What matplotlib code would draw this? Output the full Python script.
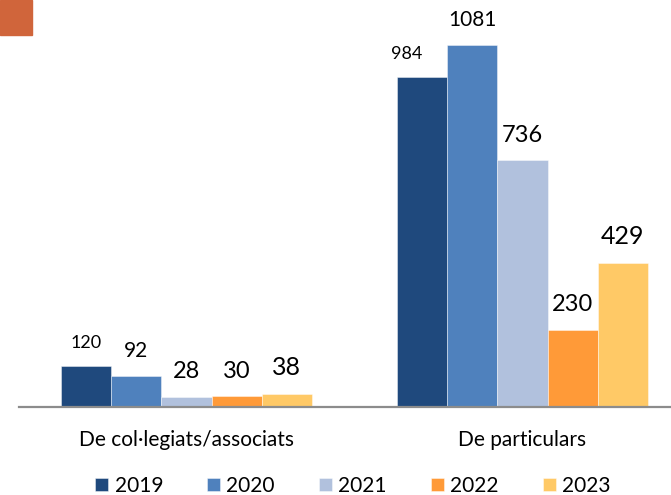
import matplotlib
matplotlib.use("Agg")
import matplotlib.pyplot as plt
from matplotlib.patches import Rectangle
import numpy as np

plt.rcParams['font.family'] = ['Lato', 'DejaVu Sans']

categories = ["De col·legiats/associats", "De particulars"]
years = ["2019", "2020", "2021", "2022", "2023"]
values = {
    "2019": [120, 984],
    "2020": [92, 1081],
    "2021": [28, 736],
    "2022": [30, 230],
    "2023": [38, 429],
}
colors = ["#1F497D", "#4F81BD", "#B1C1DD", "#FF9A38", "#FFC966"]
label_sizes = [13, 15, 17, 17, 18]
# small horizontal nudges (points) for individual value labels
label_nudge = {("2019", 1): -11}

fig = plt.figure(figsize=(6.71, 4.95), dpi=100)
ax = fig.add_axes([19 / 671, 1 - 406.5 / 495, 652 / 671, 406.5 / 495])

x = np.arange(len(categories))
width = 0.1494
n = len(years)
for i, (yr, col) in enumerate(zip(years, colors)):
    pos = x + (i - (n - 1) / 2) * width
    ax.bar(pos, values[yr], width=width, color=col, edgecolor=(1, 1, 1, 0.5),
           linewidth=0.6, label=yr, zorder=2)
    for j, (p, v) in enumerate(zip(pos, values[yr])):
        dx = label_nudge.get((yr, j), 0)
        ax.annotate(str(v), (p, v), xytext=(dx, 13.5), textcoords="offset points",
                    ha="center", va="baseline", fontsize=label_sizes[i],
                    color="#000000")

ax.set_xlim(-0.4985, 1.442)
ax.set_ylim(0, 1215)
for s in ["top", "right", "left"]:
    ax.spines[s].set_visible(False)
ax.spines["bottom"].set_color("#8C8C8C")
ax.spines["bottom"].set_linewidth(1.6)
ax.set_yticks([])
ax.set_xticks(x)
ax.set_xticklabels(categories, fontsize=15)
ax.tick_params(axis="x", length=0, pad=17)
ax.patch.set_alpha(0)

fig.legend(loc="center", bbox_to_anchor=(0.526, 1 - 486 / 495), ncol=5,
           frameon=False, fontsize=15, handlelength=0.62, handleheight=0.62,
           handletextpad=0.3, columnspacing=2.12, borderpad=0)

fig.patches.append(Rectangle((0, 1 - 35 / 495), 32 / 671, 35 / 495,
                             transform=fig.transFigure, color="#D0653B",
                             zorder=0))

fig.savefig("out.png", dpi=100)
